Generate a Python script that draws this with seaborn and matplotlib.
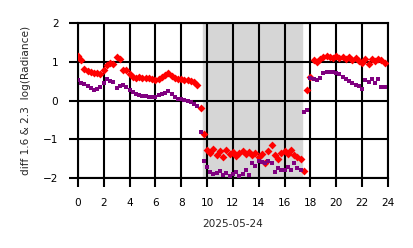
import numpy as np
import pandas as pd
import matplotlib
matplotlib.use("Agg")
import matplotlib.pyplot as plt
import seaborn as sns

hours = [i * 0.25 for i in range(96)]
diff_red = [
    1.14, 1.05, 0.82, 0.76, 0.74, 0.72, 0.72, 0.68, 0.80, 0.92, 0.96, 0.95,
    1.12, 1.08, 0.78, 0.80, 0.68, 0.60, 0.58, 0.60, 0.58, 0.57, 0.58, 0.55,
    0.52, 0.56, 0.62, 0.66, 0.72, 0.64, 0.58, 0.56, 0.55, 0.52, 0.52, 0.50,
    0.47, 0.40, -0.18, -0.85, -1.28, -1.35, -1.25, -1.40, -1.30, -1.45, -1.28, -1.38,
    -1.32, -1.42, -1.35, -1.30, -1.38, -1.33, -1.40, -1.35, -1.45, -1.38, -1.60, -1.30,
    -1.15, -1.40, -1.50, -1.35, -1.30, -1.38, -1.28, -1.40, -1.45, -1.50, -1.82, 0.28,
    0.60, 1.05, 1.00, 1.08, 1.12, 1.15, 1.12, 1.10, 1.14, 1.10, 1.12, 1.08,
    1.12, 1.05, 1.10, 1.02, 0.98, 1.08, 0.95, 1.08, 1.02, 1.08, 1.05, 0.98,
]
diff_purple = [
    0.52, 0.45, 0.42, 0.38, 0.33, 0.28, 0.30, 0.36, 0.45, 0.55, 0.50, 0.48,
    0.32, 0.38, 0.40, 0.36, 0.26, 0.22, 0.18, 0.15, 0.12, 0.12, 0.10, 0.08,
    0.08, 0.14, 0.16, 0.20, 0.25, 0.18, 0.08, 0.05, 0.04, 0.02, -0.02, -0.04,
    -0.08, -0.15, -0.80, -1.55, -1.72, -1.85, -1.90, -1.88, -1.82, -1.92, -1.88, -1.95,
    -1.90, -1.85, -1.95, -1.90, -1.80, -1.92, -1.60, -1.70, -1.55, -1.58, -1.62, -1.55,
    -1.60, -1.85, -1.75, -1.80, -1.78, -1.72, -1.80, -1.60, -1.75, -1.80, -0.30, -0.25,
    0.58, 0.55, 0.54, 0.58, 0.72, 0.73, 0.74, 0.73, 0.70, 0.68, 0.62, 0.55,
    0.50, 0.45, 0.40, 0.38, 0.30, 0.52, 0.48, 0.56, 0.45, 0.55, 0.35, 0.36,
]
night_start, night_end = 9.65, 17.35
xticks = list(range(0, 25, 2))
yticks = [-2, -1, 0, 1, 2]

df = pd.DataFrame({"hour": hours, "red": diff_red, "purple": diff_purple})

sns.set_style("white")
plt.rcParams["font.family"] = ["DejaVu Sans"]

fig = plt.figure(figsize=(4.14, 2.48), dpi=100)
ax = fig.add_axes([0.188, 0.282, 0.749, 0.625])

ax.axvspan(night_start, night_end, color="#d6d6d6", zorder=0)
sns.scatterplot(data=df, x="hour", y="red", marker="D", color="red", s=16,
                linewidth=0, ax=ax, zorder=3)
sns.scatterplot(data=df, x="hour", y="purple", marker="s", color="purple", s=10,
                linewidth=0, ax=ax, zorder=4)

ax.set_xlim(0, 24)
ax.set_ylim(-2, 2)
ax.set_xticks(xticks)
ax.set_yticks(yticks)
ax.set_xticklabels([str(t) for t in xticks])
ax.set_yticklabels(["\u22122", "\u22121", "0", "1", "2"])
ax.grid(True, color="black", linewidth=1.5, zorder=1)
ax.set_axisbelow(False)
for sp in ax.spines.values():
    sp.set_color("black")
    sp.set_linewidth(1.5)
ax.tick_params(axis="both", which="both", direction="out", length=6.5, width=1.5,
               colors="black", labelsize=7.6, pad=7.5, bottom=True, left=True)
ax.set_xlabel("2025-05-24", fontsize=7.6, labelpad=8)
ax.set_ylabel("diff 1.6 & 2.3  log(Radiance)", fontsize=7.6, labelpad=9)

fig.savefig("out.png", dpi=100)
